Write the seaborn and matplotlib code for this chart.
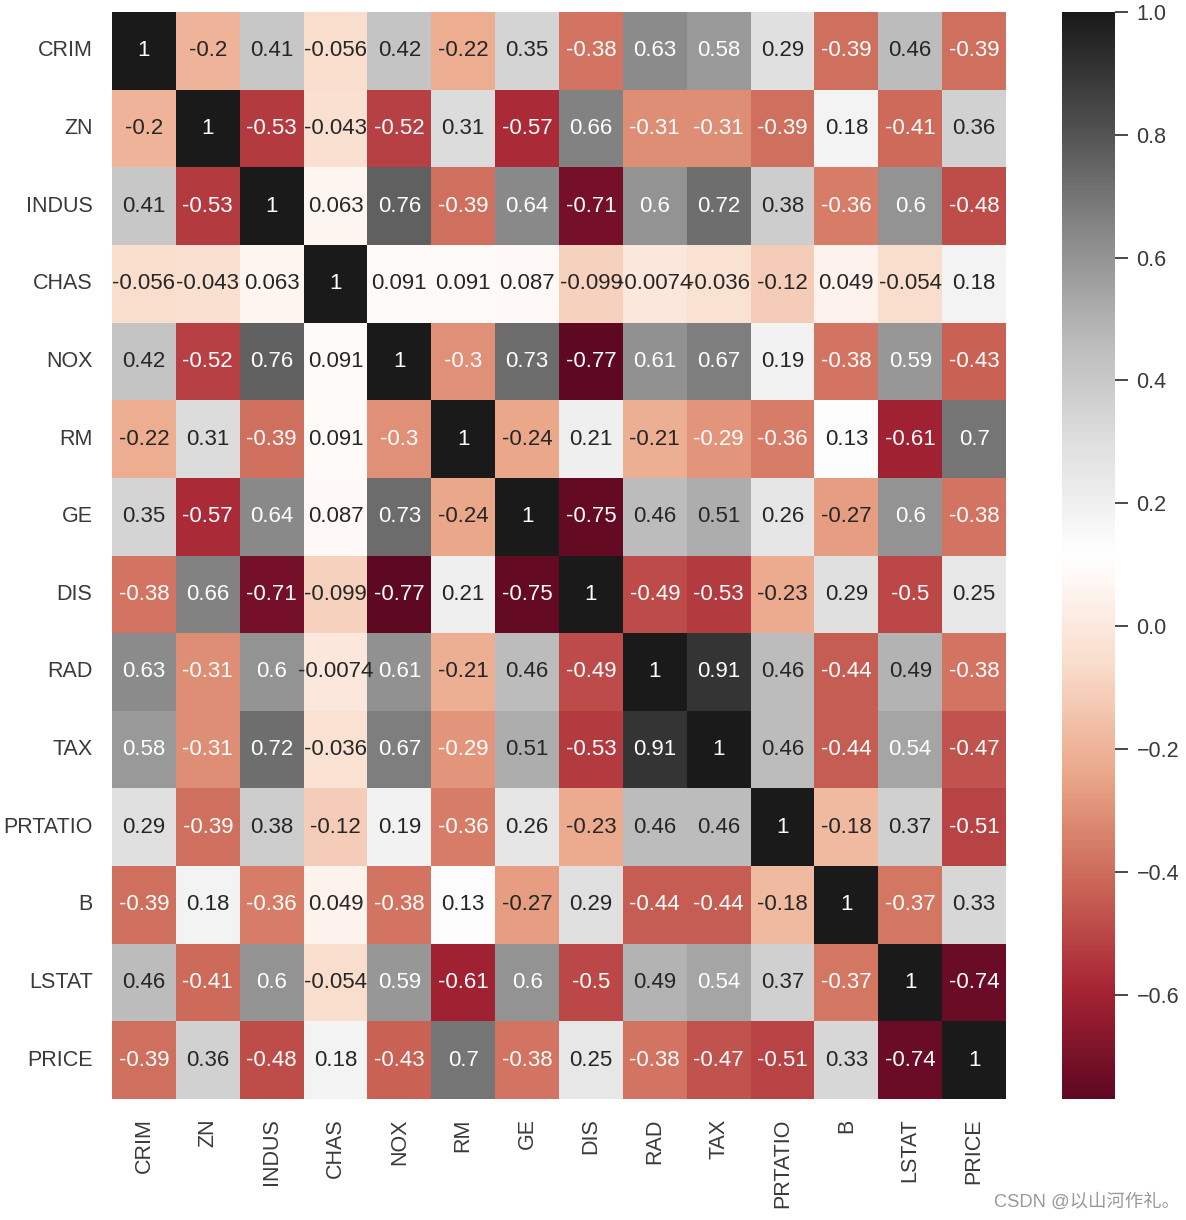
import numpy as np
import pandas as pd
import matplotlib.pyplot as plt
import seaborn as sns
from matplotlib.colors import ListedColormap

labels = ['CRIM', 'ZN', 'INDUS', 'CHAS', 'NOX', 'RM', 'GE', 'DIS', 'RAD', 'TAX', 'PRTATIO', 'B', 'LSTAT', 'PRICE']

crim = [1, -0.2, 0.41, -0.056, 0.42, -0.22, 0.35, -0.38, 0.63, 0.58, 0.29, -0.39, 0.46, -0.39]
zn = [-0.2, 1, -0.53, -0.043, -0.52, 0.31, -0.57, 0.66, -0.31, -0.31, -0.39, 0.18, -0.41, 0.36]
indus = [0.41, -0.53, 1, 0.063, 0.76, -0.39, 0.64, -0.71, 0.6, 0.72, 0.38, -0.36, 0.6, -0.48]
chas = [-0.056, -0.043, 0.063, 1, 0.091, 0.091, 0.087, -0.099, -0.0074, -0.036, -0.12, 0.049, -0.054, 0.18]
nox = [0.42, -0.52, 0.76, 0.091, 1, -0.3, 0.73, -0.77, 0.61, 0.67, 0.19, -0.38, 0.59, -0.43]
rm = [-0.22, 0.31, -0.39, 0.091, -0.3, 1, -0.24, 0.21, -0.21, -0.29, -0.36, 0.13, -0.61, 0.7]
ge = [0.35, -0.57, 0.64, 0.087, 0.73, -0.24, 1, -0.75, 0.46, 0.51, 0.26, -0.27, 0.6, -0.38]
dis = [-0.38, 0.66, -0.71, -0.099, -0.77, 0.21, -0.75, 1, -0.49, -0.53, -0.23, 0.29, -0.5, 0.25]
rad = [0.63, -0.31, 0.6, -0.0074, 0.61, -0.21, 0.46, -0.49, 1, 0.91, 0.46, -0.44, 0.49, -0.38]
tax = [0.58, -0.31, 0.72, -0.036, 0.67, -0.29, 0.51, -0.53, 0.91, 1, 0.46, -0.44, 0.54, -0.47]
prtatio = [0.29, -0.39, 0.38, -0.12, 0.19, -0.36, 0.26, -0.23, 0.46, 0.46, 1, -0.18, 0.37, -0.51]
b = [-0.39, 0.18, -0.36, 0.049, -0.38, 0.13, -0.27, 0.29, -0.44, -0.44, -0.18, 1, -0.37, 0.33]
lstat = [0.46, -0.41, 0.6, -0.054, 0.59, -0.61, 0.6, -0.5, 0.49, 0.54, 0.37, -0.37, 1, -0.74]
price = [-0.39, 0.36, -0.48, 0.18, -0.43, 0.7, -0.38, 0.25, -0.38, -0.47, -0.51, 0.33, -0.74, 1]

rows = [crim, zn, indus, chas, nox, rm, ge, dis, rad, tax, prtatio, b, lstat, price]
corr = pd.DataFrame(np.array(rows), index=labels, columns=labels)

sns.set_theme(style='white')
plt.rcParams['font.family'] = ['Liberation Sans', 'Noto Sans CJK SC', 'DejaVu Sans']

W, H = 1186, 1220
fig = plt.figure(figsize=(W / 100, H / 100), dpi=100)
ax = fig.add_axes([112 / W, 1 - 1099 / H, (1006 - 112) / W, (1099 - 12) / H])
cax = fig.add_axes([1062 / W, 1 - 1099 / H, (1115 - 1062) / W, (1099 - 12) / H])

# the reference reds are a bit duller than plain RdGy
cmap = ListedColormap(sns.color_palette('RdGy', 256, desat=0.85))
sns.heatmap(corr, annot=True, cmap=cmap, ax=ax, cbar_ax=cax, annot_kws={'size': 16})

text_color = '#3a3a3a'
ax.set_xticklabels(labels, rotation=90, fontsize=15.5, color=text_color)
ax.set_yticklabels(labels, rotation=0, fontsize=15.5, color=text_color)
ax.tick_params(axis='both', length=0, pad=14)

cax.tick_params(axis='y', right=True, length=9.5, width=1.3, color=text_color, labelsize=15.5, labelcolor=text_color, pad=6)
for side in cax.spines.values():
    side.set_visible(False)

fig.text(1180 / W, 1 - 1202 / H, 'CSDN @以山河作礼。', ha='right', va='center', fontsize=13.2, color='#999999')

fig.savefig('out.png', dpi=100)
